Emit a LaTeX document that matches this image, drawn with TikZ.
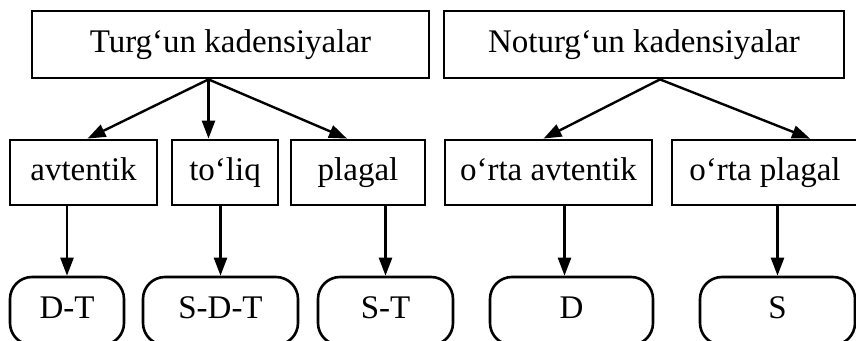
\documentclass[tikz,border=0pt]{standalone}
\usepackage{fontspec}
\setmainfont{Liberation Serif}
\usetikzlibrary{arrows.meta,calc}
\tikzset{
  label font/.style={font=\fontsize{16.5}{19}\selectfont,text height=11.5pt,text depth=3.5pt},
  groupbox/.style={rectangle,draw,line width=1.4pt,minimum height=33.5pt,
                   label font,inner sep=0pt},
  kindbox/.style={rectangle,draw,line width=1.4pt,minimum height=32.5pt,
                  minimum width=#1,label font,inner sep=0pt},
  formbox/.style={rectangle,rounded corners=11pt,draw,line width=1.3pt,
                  minimum height=34pt,minimum width=#1,
                  label font,inner sep=0pt},
  arrow/.style={-{Triangle[length=9pt,width=6.5pt]},line width=1.2pt},
}
\begin{document}
\begin{tikzpicture}[x=0.5pt,y=-0.5pt]
  \clip (0,0) rectangle (856,341);

  % cadence groups
  \node[groupbox,minimum width=198.5pt] (turgun) at (230.5,44.5) {Turg‘un kadensiyalar};
  \node[groupbox,minimum width=200pt] (noturgun) at (644,44.5) {Noturg‘un kadensiyalar};

  % cadence kinds
  \node[kindbox=73.5pt] (avtentik) at (83.5,172.5) {avtentik};
  \node[kindbox=53pt]   (toliq)    at (225,172.5)  {to‘liq};
  \node[kindbox=67pt]   (plagal)   at (358,172.5)  {plagal};
  \node[kindbox=103.5pt] (ortaavt) at (548.5,172.5) {o‘rta avtentik};
  \node[kindbox=93pt]   (ortapl)   at (765,172.5)  {o‘rta plagal};

  % harmonic formulas
  \node[formbox=57pt]   (dt)  at (67,311)    {D-T};
  \node[formbox=77.5pt] (sdt) at (220.5,311) {S-D-T};
  \node[formbox=67.5pt] (st)  at (385.5,311) {S-T};
  \node[formbox=81.5pt] (d)   at (571.5,311) {D};
  \node[formbox=77.5pt] (s)   at (777.5,311) {S};

  \coordinate (t1) at ($(turgun.south)+(-22,0)$);
  \coordinate (t2) at ($(noturgun.south)+(16,0)$);
  \coordinate (dtop) at ($(d.north)+(-7,0)$);

  \draw[arrow] (t1) -- ($(avtentik.north)+(4,0)$);
  \draw[arrow] (t1) -- (toliq.north -| t1);
  \draw[arrow] (t1) -- ($(plagal.north)+(-11,0)$);
  \draw[arrow] (t2) -- ($(ortaavt.north)+(-5,0)$);
  \draw[arrow] (t2) -- ($(ortapl.north)+(45,0)$);

  \draw[arrow] (avtentik.south -| dt.north) -- (dt.north);
  \draw[arrow] (toliq.south -| sdt.north) -- (sdt.north);
  \draw[arrow] (plagal.south -| st.north) -- (st.north);
  \draw[arrow] (ortaavt.south -| dtop) -- (dtop);
  \draw[arrow] (ortapl.south -| s.north) -- (s.north);
\end{tikzpicture}
\end{document}
